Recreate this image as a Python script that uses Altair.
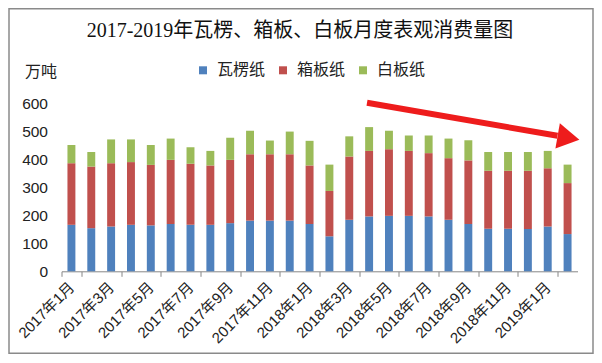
import altair as alt
import pandas as pd

# ---- data ----
months = ["2017年1月", "2017年2月", "2017年3月", "2017年4月", "2017年5月", "2017年6月",
          "2017年7月", "2017年8月", "2017年9月", "2017年10月", "2017年11月", "2017年12月",
          "2018年1月", "2018年2月", "2018年3月", "2018年4月", "2018年5月", "2018年6月",
          "2018年7月", "2018年8月", "2018年9月", "2018年10月", "2018年11月", "2018年12月",
          "2019年1月", "2019年2月"]
label_months = ["2017年1月", "2017年3月", "2017年5月", "2017年7月", "2017年9月", "2017年11月",
                "2018年1月", "2018年3月", "2018年5月", "2018年7月", "2018年9月", "2018年11月",
                "2019年1月"]
types = ["瓦楞纸", "箱板纸", "白板纸"]
colors = ["#4F81BD", "#C0504D", "#9BBB59"]

corrugated = [166, 154, 160, 166, 164, 169, 166, 166, 172, 181, 181, 181, 169,
              125, 184, 196, 198, 198, 196, 184, 169, 152, 152, 151, 160, 133]
boxboard = [220, 220, 226, 224, 216, 229, 218, 212, 226, 237, 237, 237, 209,
            162, 226, 234, 238, 232, 226, 220, 227, 207, 207, 208, 208, 182]
whiteboard = [65, 52, 85, 81, 71, 76, 59, 52, 79, 84, 49, 81, 88,
              94, 72, 85, 66, 55, 63, 70, 72, 67, 67, 67, 62, 66]

y_ticks = [0, 100, 200, 300, 400, 500, 600]

title_text = "2017-2019年瓦楞、箱板、白板月度表观消费量图"
unit_text = "万吨"

rows = []
for series, vals in zip(types, [corrugated, boxboard, whiteboard]):
    for m, v in zip(months, vals):
        rows.append({"month": m, "type": series, "value": v, "order": types.index(series)})
df = pd.DataFrame(rows)

SANS = "Liberation Sans, 'Noto Sans CJK SC', sans-serif"
SERIF = "Liberation Serif, 'Noto Sans CJK SC', serif"

bars = alt.Chart(df).mark_bar(width=alt.RelativeBandSize(0.4)).encode(
    x=alt.X("month:N", sort=months,
            scale=alt.Scale(paddingInner=0, paddingOuter=0),
            axis=alt.Axis(title=None, values=label_months, tickBand="extent",
                          labelAngle=-45, labelAlign="right", labelBaseline="middle",
                          labelFont=SANS, labelFontSize=15, labelColor="#222",
                          labelPadding=8, labelOverlap=False,
                          domainColor="#868686", tickColor="#868686", tickSize=5)),
    y=alt.Y("value:Q", stack="zero",
            scale=alt.Scale(domain=[0, 600], nice=False),
            axis=alt.Axis(title=None, values=y_ticks, domain=False, ticks=False, grid=False,
                          labelFont=SANS, labelFontSize=15.5, labelColor="#222",
                          labelPadding=14)),
    color=alt.Color("type:N", sort=types,
                    scale=alt.Scale(domain=types, range=colors),
                    legend=alt.Legend(title=None, orient="none", legendX=133.5, legendY=-41,
                                      direction="horizontal", symbolType="square",
                                      symbolSize=64, symbolStrokeWidth=0,
                                      labelFont=SANS, labelFontSize=16, labelColor="#222",
                                      labelOffset=6, columnPadding=9, padding=0)),
    order=alt.Order("order:Q"),
)

one = pd.DataFrame({"t": [title_text], "u": [unit_text]})

title = alt.Chart(one).mark_text(font=SERIF, fontSize=20, color="#111",
                                 align="center", baseline="middle").encode(
    text="t:N", x=alt.value(238.5), y=alt.value(-72))

unit = alt.Chart(one).mark_text(font=SANS, fontSize=16, color="#222",
                                align="center", baseline="middle").encode(
    text="u:N", x=alt.value(-20.5), y=alt.value(-31))

frame = alt.Chart(one).mark_rect(filled=False, stroke="#8a8a8a", strokeWidth=1.5).encode(
    x=alt.value(-52.5), x2=alt.value(531.5), y=alt.value(-94.5), y2=alt.value(250))

arrow_line = alt.Chart(one).mark_rule(color="#EE1C1C", strokeWidth=6).encode(
    x=alt.value(305.5), x2=alt.value(496), y=alt.value(-0.5), y2=alt.value(32.5))

arrow_head = alt.Chart(one).mark_point(shape="triangle-right", filled=True, size=650,
                                       angle=10, color="#EE1C1C", opacity=1).encode(
    x=alt.value(507), y=alt.value(34.5))

chart = alt.layer(frame, bars, title, unit, arrow_line, arrow_head).properties(
    width=516, height=168,
    autosize=alt.AutoSizeParams(type="none"),
    padding={"left": 53.5, "top": 95.3, "right": 16.5, "bottom": 83.7},
).configure_view(stroke=None)

chart.save("out.html", embed_options={"renderer": "svg", "actions": False})
